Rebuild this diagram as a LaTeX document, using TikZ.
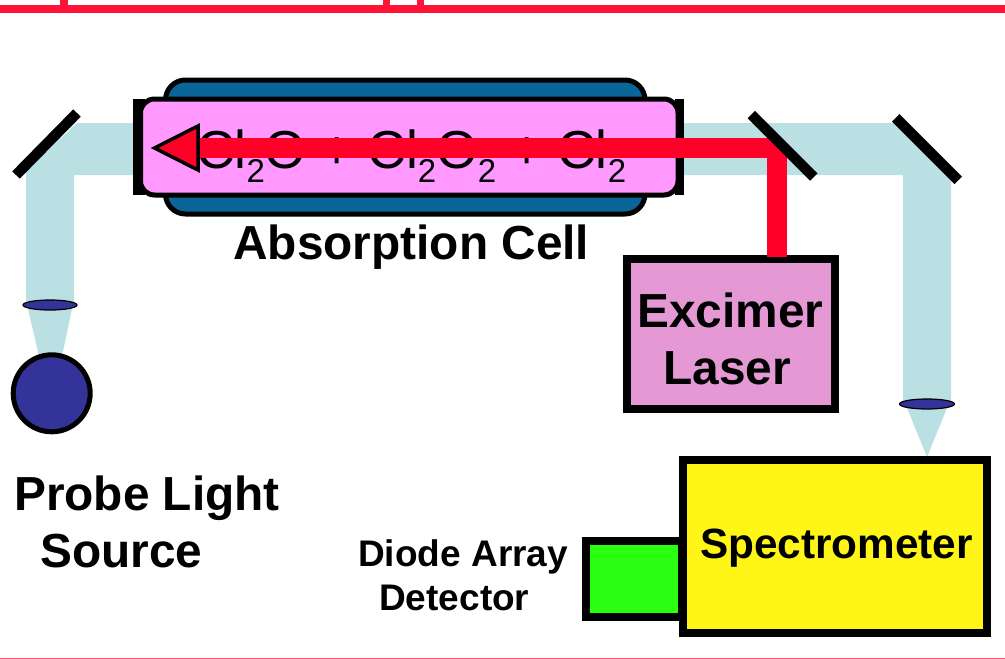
\documentclass[tikz,border=0pt]{standalone}
\usepackage{fontspec}
\setmainfont{Liberation Sans}
\usetikzlibrary{positioning, shapes.geometric}
\definecolor{rulered}{HTML}{FF1438}
\definecolor{rulepink}{HTML}{FF4D73}
\definecolor{probeblue}{HTML}{BAE0E3}
\definecolor{jacketblue}{HTML}{0A6699}
\definecolor{cellpink}{HTML}{FF99FF}
\definecolor{laserred}{HTML}{FF0029}
\definecolor{laserpink}{HTML}{E499D5}
\definecolor{lensblue}{HTML}{333399}
\definecolor{specyellow}{HTML}{FFF617}
\definecolor{detgreen}{HTML}{2BFF11}
\tikzset{
every node/.style={inner sep=0pt, outer sep=0pt},
jacket/.style={draw, line width=5pt, fill=jacketblue, rounded corners=20pt, minimum width=479.5pt, minimum height=134pt},
tube/.style={draw, line width=5pt, fill=cellpink, rounded corners=14pt, minimum width=537.5pt, minimum height=96pt},
window/.style={fill=black, minimum height=96pt},
instrument/.style={draw, line width=8pt},
lens/.style={draw, ellipse, line width=1.2pt, fill=lensblue, minimum width=54pt, minimum height=10pt},
lamp/.style={draw, circle, line width=5pt, fill=lensblue, minimum size=77pt},
mirror/.style={line width=10.5pt},
probe/.style={fill=probeblue},
laserbeam/.style={draw=laserred, line width=20pt, line join=bevel},
biglabel/.style={font=\fontsize{47.8}{57}\selectfont\bfseries, align=left},
smalllabel/.style={font=\fontsize{37}{44}\selectfont\bfseries, align=left},
}
\newcommand{\subtwo}{\raisebox{-14pt}{\fontsize{33}{33}\selectfont 2}}

\begin{document}
\begin{tikzpicture}[x=1pt, y=-1pt]
    \useasboundingbox (0,0) rectangle (1005,659);
    \fill[rulered] (0,5) rectangle (1005,12.7);
    \foreach \x/\w in {60/8, 383/7, 417/7}
        \fill[rulered] (\x,0) rectangle ++(\w,5);
    \fill[rulepink] (0,657.7) rectangle (1005,659);

    \fill[probe] (26,171) -- (77,123) -- (133,123) -- (133,175) -- (74,175) -- (74,304) -- (26,304) -- cycle;
    \fill[probe] (683,123) -- (894,123) -- (951,180) -- (951,404) -- (903,404) -- (903,175) -- (683,175) -- cycle;
    \fill[probe] (28,309) -- (72,309) -- (62,356) -- (39,356) -- cycle;
    \fill[probe] (907,408) -- (947,408) -- (927,457) -- cycle;

    \node[jacket] (cell) at (405.25,147) {};
    \node[window, minimum width=12pt] (leftwin) at (139,147) {};
    \node[window, minimum width=9pt] (rightwin) at (679,147) {};
    \node[tube] (tube) at (409.25,147) {};
    \node[anchor=base west, font=\fontsize{53.5}{53.5}\selectfont] (gases) at (196,168)
        {Cl\subtwo O + Cl\subtwo O\subtwo{} + Cl\subtwo};
    \node[biglabel, below=11pt of cell.south, xshift=6pt] (celllabel) {Absorption Cell};

    \node[lens] (lensa) at (50,305) {};
    \node[lamp] (source) at (51.7,393.3) {};
    \node[biglabel] (sourcelabel) at (147,521.5) {Probe Light\\\hspace*{26pt}Source};

    \node[instrument, fill=laserpink, minimum width=208pt, minimum height=149.7pt] (laser) at (731.3,333.9) {};
    \node[biglabel, align=center] (laserlabel) at (730.5,339) {Excimer\\Laser\hspace*{7pt}};

    \node[lens, minimum width=55pt] (lensb) at (927,404) {};
    \node[instrument, fill=detgreen, minimum width=96pt, minimum height=76pt] (detector) at (634,578.7) {};
    \node[instrument, fill=specyellow, minimum width=304pt, minimum height=173pt] (spec) at (834.7,546.2) {};
    \node[font=\fontsize{42.3}{48}\selectfont\bfseries] (speclabel) at (836.5,548) {Spectrometer};
    \node[smalllabel, left=18pt of detector.west, yshift=3pt] (detlabel) {Diode Array\\\hspace*{21pt}Detector};

    \coordinate (laserout) at (777,257);
    \coordinate (headbase) at (198,148);
    \draw[laserbeam] (laserout) |- (headbase);
    \draw[line width=3.5pt, fill=laserred, line join=miter] (headbase) ++(0,-22) -- (154.5,148) -- (198,170) -- cycle;

    \draw[mirror] (77,113) -- (16,175);
    \draw[mirror] (751.3,114.5) -- (813.8,177);
    \draw[mirror] (895.7,117.8) -- (958.2,180.3);
\end{tikzpicture}
\end{document}
